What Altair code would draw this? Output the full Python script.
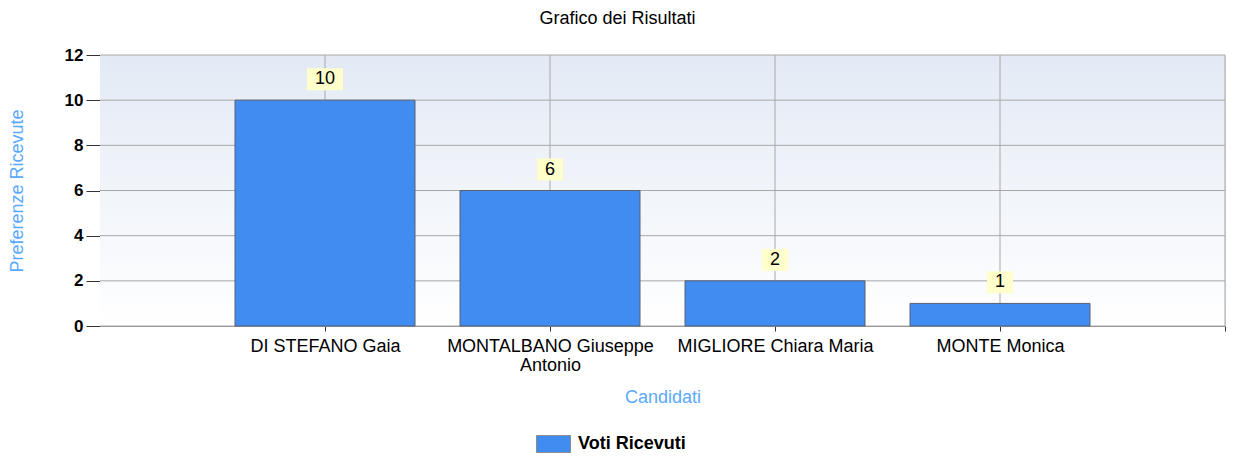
import json
import altair as alt
import pandas as pd

# ---- data ----
candidati = ["DI STEFANO Gaia", "MONTALBANO Giuseppe Antonio", "MIGLIORE Chiara Maria", "MONTE Monica"]
righe_etichetta = [["DI STEFANO Gaia"], ["MONTALBANO Giuseppe", "Antonio"], ["MIGLIORE Chiara Maria"], ["MONTE Monica"]]
voti = [10, 6, 2, 1]
serie = "Voti Ricevuti"
y_ticks = [0, 2, 4, 6, 8, 10, 12]
x_ticks = list(range(1, len(candidati) + 2))

df = pd.DataFrame({
    "candidato": candidati,
    "voti": voti,
    "pos": list(range(1, len(candidati) + 1)),
    "serie": serie,
})
df["etichetta"] = df["voti"].astype(str)
df["lunghezza"] = df["etichetta"].str.len()

W, H = 1125, 271
FONT = "Liberation Sans"
BLUE_TITLE = "#5AA9FF"
GRID = "#A8A8A8"

xscale = alt.Scale(domain=[0, len(candidati) + 1], nice=False, zero=False)
yscale = alt.Scale(domain=[0, 12], nice=False)

label_expr = "''"
for i in reversed(range(len(righe_etichetta))):
    label_expr = f"datum.value == {i + 1} ? {json.dumps(righe_etichetta[i])} : ({label_expr})"

xaxis = alt.Axis(
    values=x_ticks, labelExpr=label_expr, labelAngle=0, grid=False,
    tickSize=5, tickColor="#333333", domainColor="#8C8C8C",
    labelPadding=6, labelFontSize=18, labelColor="black", labelFont=FONT,
    labelLineHeight=19, labelBaseline="top", labelOverlap=False, labelBound=False,
    labelFlush=False, labelLimit=0,
    titleColor=BLUE_TITLE, titleFontSize=18, titleFontWeight="normal", titleFont=FONT,
    titleX=W / 2, titleY=71, titleBaseline="middle", titleAlign="center",
)
yaxis = alt.Axis(
    values=y_ticks, tickSize=14, tickColor="#333333", domainColor="#8C8C8C", grid=False,
    labelFontWeight="bold", labelFontSize=17, labelColor="black", labelFont=FONT,
    labelPadding=3,
    titleColor=BLUE_TITLE, titleFontSize=18, titleFontWeight="normal", titleFont=FONT,
    titleAngle=270, titleX=-83, titleY=H / 2, titleAlign="center", titleBaseline="middle",
)

gradient = alt.Gradient(
    gradient="linear",
    stops=[alt.GradientStop(color="#E3EAF5", offset=0),
           alt.GradientStop(color="#FFFFFF", offset=1)],
    x1=0, x2=0, y1=0, y2=1,
)

bg = alt.Chart(pd.DataFrame({"k": [0]})).mark_rect(fill=gradient).encode(
    x=alt.value(0), x2=alt.value(W), y=alt.value(0), y2=alt.value(H)
)

hgrid = alt.Chart(pd.DataFrame({"yv": y_ticks})).mark_rule(color=GRID, strokeWidth=1).encode(
    y=alt.Y("yv:Q", scale=yscale), x=alt.value(0), x2=alt.value(W)
)
vgrid = alt.Chart(pd.DataFrame({"xv": x_ticks})).mark_rule(color=GRID, strokeWidth=1).encode(
    x=alt.X("xv:Q", scale=xscale), y=alt.value(0), y2=alt.value(H)
)

base = alt.Chart(df)

bars = base.transform_calculate(
    x1="datum.pos - 0.4", x2="datum.pos + 0.4"
).mark_bar(stroke="#5A6070", strokeWidth=1).encode(
    x=alt.X("x1:Q", scale=xscale, axis=xaxis, title="Candidati"),
    x2="x2:Q",
    y=alt.Y("voti:Q", scale=yscale, axis=yaxis, title="Preferenze Ricevute"),
    y2=alt.datum(0),
    color=alt.Color(
        "serie:N", scale=alt.Scale(range=["#418CF0"]),
        legend=alt.Legend(
            title=None, orient="none", legendX=436, legendY=371.5, padding=0,
            symbolType="M-1,-0.5H1V0.5H-1Z", symbolSize=1156,
            symbolStrokeColor="#8C8C8C", symbolStrokeWidth=1, symbolOpacity=1,
            labelFontWeight="bold", labelFontSize=18, labelFont=FONT,
            labelColor="black", labelOffset=7,
        ),
    ),
)

boxes = []
for L in sorted(df["lunghezza"].unique()):
    half = 8 + 5 * int(L)
    boxes.append(
        base.transform_filter(f"datum.lunghezza == {int(L)}").mark_rect(
            fill="#FFFFCC", xOffset=-half, x2Offset=half, yOffset=-32, y2Offset=-10
        ).encode(
            x=alt.X("pos:Q", scale=xscale), x2="pos:Q",
            y=alt.Y("voti:Q", scale=yscale), y2="voti:Q",
        )
    )

labels = base.mark_text(dy=-21, baseline="middle", align="center", fontSize=18,
                        font=FONT, color="black").encode(
    x=alt.X("pos:Q", scale=xscale),
    y=alt.Y("voti:Q", scale=yscale),
    text="etichetta:N",
)

chart = alt.layer(bg, hgrid, vgrid, bars, *boxes, labels).properties(
    width=W, height=H,
    autosize=alt.AutoSizeParams(type="none"),
    padding={"left": 92, "top": 47, "right": 1, "bottom": 127},
    title=alt.TitleParams("Grafico dei Risultati", fontSize=18, fontWeight="normal",
                          font=FONT, color="black", offset=18, dx=-45),
).configure_view(stroke=GRID).configure(background="white")

chart.save("out.html", embed_options={"renderer": "svg", "actions": False})
